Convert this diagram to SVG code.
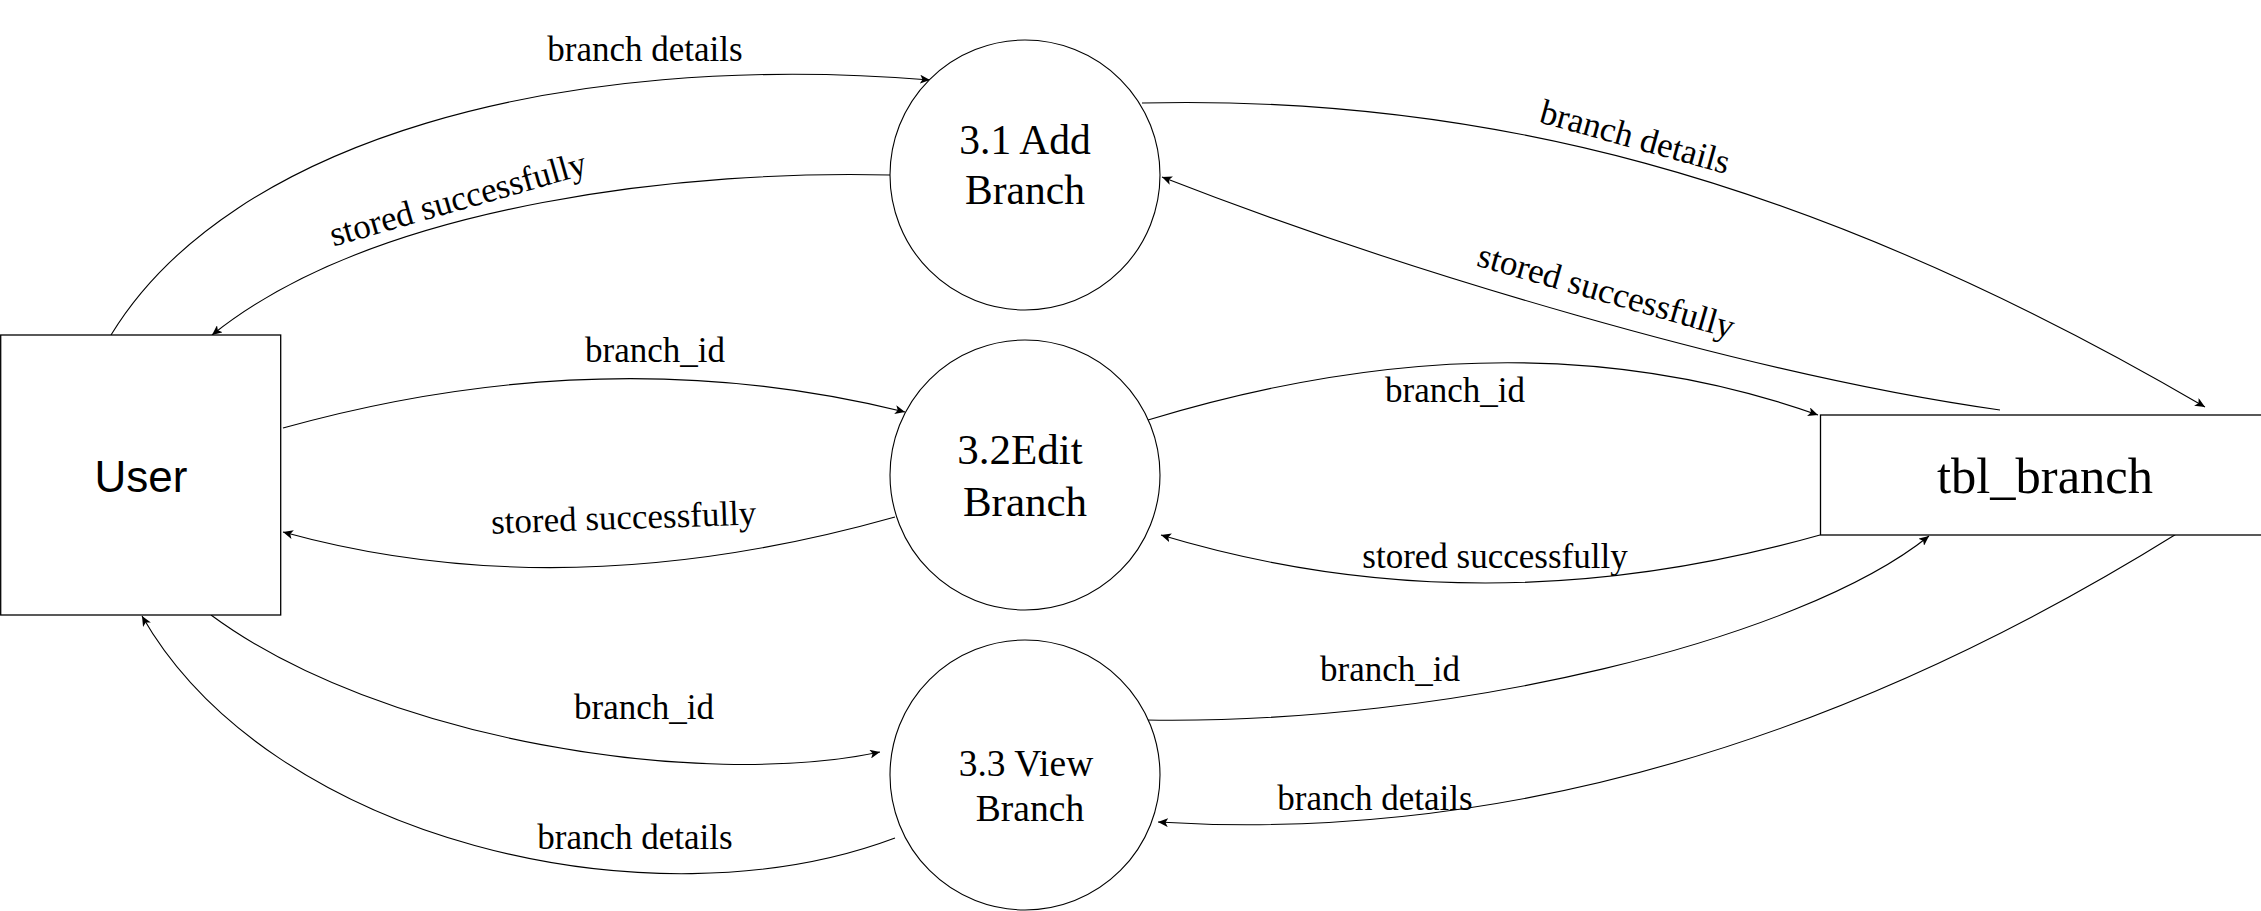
<svg xmlns="http://www.w3.org/2000/svg" width="2261" height="911" viewBox="0 0 2261 911">
<defs>
<style>
.shape{fill:#fff;stroke:#000;stroke-width:1.3}
.proc{fill:#fff;stroke:#000;stroke-width:1.1}
.edge{fill:none;stroke:#000;stroke-width:1.1;marker-end:url(#arr)}
.lbl{font-family:"Liberation Serif","Times New Roman",serif;font-size:35px;fill:#000;text-anchor:middle}
.ntxt{font-family:"Liberation Serif","Times New Roman",serif;fill:#000;text-anchor:middle}
</style>
<marker id="arr" markerUnits="userSpaceOnUse" markerWidth="11" markerHeight="9" refX="10" refY="4.5" orient="auto">
<path d="M0,0 L10,4.5 L0,9 L2.5,4.5 z" fill="#000"/>
</marker>
</defs>
<rect width="2261" height="911" fill="#fff"/>

<g id="connectors">
<path class="edge" d="M111,335 C230,140 560,50 930,80"/>
<path class="edge" d="M890,175 C700,170 380,200 212,335"/>
<path class="edge" d="M1142,103 C1470,95 1800,170 2205,407"/>
<path class="edge" d="M2000,410 C1750,375 1400,270 1162,177"/>
<path class="edge" d="M283,428 Q606,338 905,412"/>
<path class="edge" d="M895,517 Q565,610 283,532"/>
<path class="edge" d="M1148,420 Q1517,308 1818,415"/>
<path class="edge" d="M1820,535 Q1480,631 1161,535"/>
<path class="edge" d="M211,615 C380,740 700,790 880,752"/>
<path class="edge" d="M895,838 C650,930 270,840 142,616"/>
<path class="edge" d="M1146,720 C1450,725 1800,640 1929,536"/>
<path class="edge" d="M2178,533 C1990,650 1620,850 1158,822"/>

<text class="lbl" x="645" y="61">branch details</text>
<text class="lbl" transform="translate(461,210) rotate(-16)">stored successfully</text>
<text class="lbl" transform="translate(1632,148) rotate(15.5)">branch details</text>
<text class="lbl" transform="translate(1603,302) rotate(16)">stored successfully</text>
<text class="lbl" x="655" y="362">branch_id</text>
<text class="lbl" transform="translate(624,529) rotate(-2)">stored successfully</text>
<text class="lbl" x="1455" y="402">branch_id</text>
<text class="lbl" x="1495" y="568">stored successfully</text>
<text class="lbl" x="644" y="719">branch_id</text>
<text class="lbl" x="635" y="849">branch details</text>
<text class="lbl" x="1390" y="681">branch_id</text>
<text class="lbl" x="1375" y="810">branch details</text>
</g>

<g id="user">
<rect class="shape" x="0.7" y="335" width="280" height="280"/>
<text x="141" y="492" font-family="'Liberation Sans',Arial,sans-serif" font-size="44" text-anchor="middle">User</text>
</g>

<g id="p31">
<circle class="proc" cx="1025" cy="175" r="135"/>
<text class="ntxt" font-size="41.5"><tspan x="1025" y="154">3.1 Add</tspan><tspan x="1025" y="204">Branch</tspan></text>
</g>

<g id="p32">
<circle class="proc" cx="1025" cy="475" r="135"/>
<text class="ntxt" font-size="43"><tspan x="1020" y="464">3.2Edit</tspan><tspan x="1025" y="516">Branch</tspan></text>
</g>

<g id="p33">
<circle class="proc" cx="1025" cy="775" r="135"/>
<text class="ntxt" font-size="37.5"><tspan x="1026" y="776">3.3 View</tspan><tspan x="1030" y="821">Branch</tspan></text>
</g>

<g id="tbl_branch">
<rect class="shape" x="1820.5" y="415" width="460" height="120"/>
<text class="ntxt" x="2045" y="493" font-size="50.5">tbl_branch</text>
</g>
</svg>
